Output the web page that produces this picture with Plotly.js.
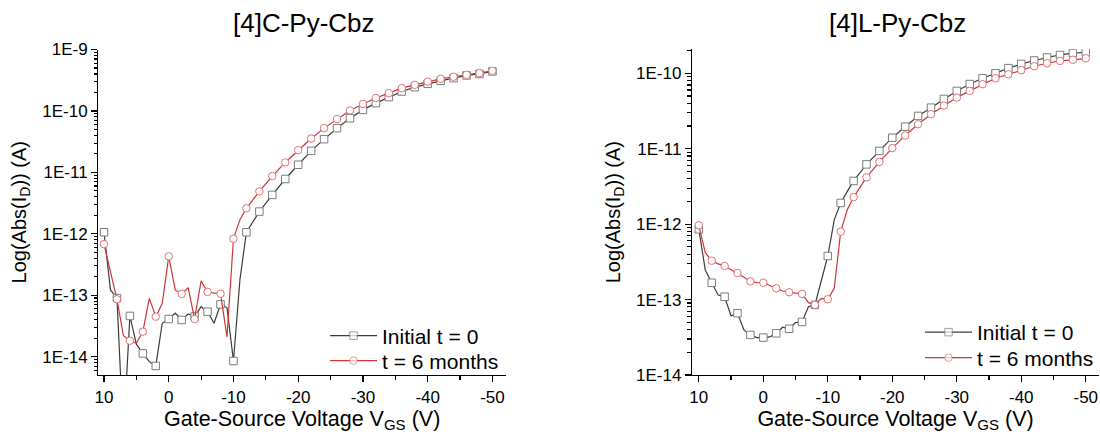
<!DOCTYPE html>
<html>
<head>
<meta charset="utf-8">
<script src="https://cdn.plot.ly/plotly-3.0.1.min.js"></script>
<style>html,body{margin:0;padding:0;background:#fff;}#chart{width:1100px;height:439px;}</style>
</head>
<body>
<div id="chart"></div>
<script>
// ---------- data ----------
const titleC = '[4]C-Py-Cbz';
const titleL = '[4]L-Py-Cbz';
const seriesNames = ['Initial t = 0', 't = 6 months'];

// [4]C-Py-Cbz
const vgsC = [10,9,8,7,6,5,4,3,2,1,0,-1,-2,-3,-4,-5,-6,-7,-8,-9,-10,-11,
  -12,-14,-16,-18,-20,-22,-24,-26,-28,-30,-32,-34,-36,-38,-40,-42,-44,-46,-48,-50];
const idC_t0 = [1.06e-12,1.22e-13,9.0e-14,5e-16,4.6e-14,1.6e-14,1.13e-14,8.3e-15,7.06e-15,3.5e-14,
  4.1e-14,5.1e-14,3.96e-14,4.95e-14,4.5e-14,6.5e-14,5.4e-14,3.5e-14,7.1e-14,6.3e-14,8.5e-15,1.8e-13,
  1.06e-12,2.3e-12,4.3e-12,7.8e-12,1.33e-11,2.24e-11,3.47e-11,5.25e-11,7.6e-11,1.04e-10,1.34e-10,
  1.68e-10,2.07e-10,2.44e-10,2.76e-10,3.09e-10,3.42e-10,3.78e-10,4.0e-10,4.4e-10];
const idC_6m = [6.8e-13,2.3e-13,8.6e-14,2.2e-14,1.82e-14,1.65e-14,2.55e-14,8.9e-14,4.48e-14,7.4e-14,
  4.3e-13,1.22e-13,1.05e-13,1.33e-13,4.1e-14,1.71e-13,1.13e-13,1.08e-13,1.06e-13,2.1e-14,8.3e-13,1.7e-12,
  2.6e-12,4.9e-12,8.7e-12,1.45e-11,2.3e-11,3.55e-11,5.25e-11,7.4e-11,1.02e-10,1.3e-10,1.62e-10,
  1.95e-10,2.35e-10,2.66e-10,3.0e-10,3.33e-10,3.6e-10,3.87e-10,4.13e-10,4.5e-10];

// [4]L-Py-Cbz
const vgsL = [10,9,8,7,6,5,4,3,2,1,0,-1,-2,-3,-4,-5,-6,-7,-8,-9,-10,-11,-12,-13,
  -14,-16,-18,-20,-22,-24,-26,-28,-30,-32,-34,-36,-38,-40,-42,-44,-46,-48,-50];
const idL_t0 = [8.55e-13,2.47e-13,1.67e-13,1.15e-13,1.09e-13,6.07e-14,6.6e-14,3.95e-14,3.4e-14,3.13e-14,
  3.13e-14,3.2e-14,3.57e-14,4.3e-14,4.1e-14,4.94e-14,5.05e-14,8.05e-14,8.5e-14,1.82e-13,3.78e-13,1.14e-12,
  1.91e-12,2.7e-12,3.74e-12,6.2e-12,9.35e-12,1.4e-11,1.96e-11,2.72e-11,3.5e-11,4.57e-11,5.84e-11,7.2e-11,
  8.6e-11,1.0e-10,1.17e-10,1.33e-10,1.48e-10,1.62e-10,1.75e-10,1.85e-10,1.9e-10];
const idL_6m = [9.66e-13,4.2e-13,3.28e-13,2.97e-13,2.79e-13,2.5e-13,2.25e-13,1.98e-13,1.74e-13,1.68e-13,
  1.67e-13,1.52e-13,1.41e-13,1.3e-13,1.25e-13,1.22e-13,1.19e-13,9.1e-14,8.5e-14,1.04e-13,1.01e-13,1.41e-13,
  7.95e-13,1.54e-12,2.28e-12,4.17e-12,6.7e-12,1.02e-11,1.5e-11,2.11e-11,2.87e-11,3.73e-11,4.76e-11,5.84e-11,
  7.17e-11,8.6e-11,9.7e-11,1.1e-10,1.24e-10,1.36e-10,1.46e-10,1.51e-10,1.58e-10];

// tick labels
const xTickVals = [10,0,-10,-20,-30,-40,-50];
const xTickText = ['10','0','-10','-20','-30','-40','-50'];
const yTickVals = [1e-14,1e-13,1e-12,1e-11,1e-10,1e-9];
const yTickText = ['1E-14','1E-13','1E-12','1E-11','1E-10','1E-9'];

// ---------- styling ----------
const FONT = 'Liberation Sans, Arial, sans-serif';
const BLACK_LINE = '#3c3c3c', BLACK_MK = '#7d7d7d';
const RED_LINE = '#cc3636', RED_MK = '#de7474';

// markers shown on every even gate voltage (every second 1 V step)
const mkOpacity = v => v.map(x => (x % 2 === 0 ? 1 : 0));
const minorLog = (lo, hi) => { const a = []; for (let e = lo; e <= hi; e++) for (let m = 2; m <= 9; m++) a.push(m * Math.pow(10, e)); return a; };
const minorX = [5,-5,-15,-25,-35,-45];

function tr(x, y, name, lineC, mkC, sym, xa, ya, leg) {
  return {
    x: x, y: y, name: name, type: 'scatter', mode: 'lines+markers',
    xaxis: xa, yaxis: ya, legend: leg,
    line: {color: lineC, width: 1.2},
    marker: {symbol: sym, size: 7.5, color: '#ffffff', opacity: mkOpacity(x), line: {color: mkC, width: 1}}
  };
}

const data = [
  tr(vgsC, idC_t0, seriesNames[0], BLACK_LINE, BLACK_MK, 'square', 'x', 'y', 'legend'),
  tr(vgsC, idC_6m, seriesNames[1], RED_LINE, RED_MK, 'circle', 'x', 'y', 'legend2'),
  tr(vgsL, idL_t0, seriesNames[0], BLACK_LINE, BLACK_MK, 'square', 'x2', 'y2', 'legend3'),
  tr(vgsL, idL_6m, seriesNames[1], RED_LINE, RED_MK, 'circle', 'x2', 'y2', 'legend4')
];

function xax(domain, range, anchor) {
  return {
    domain: domain, range: range, anchor: anchor, type: 'linear',
    showline: true, linecolor: '#000', linewidth: 1.3, mirror: false,
    showgrid: false, zeroline: false,
    tickmode: 'array', tickvals: xTickVals, ticktext: xTickText,
    ticks: 'outside', ticklen: 6, tickwidth: 1.2, tickcolor: '#000',
    minor: {tickmode: 'array', tickvals: minorX, ticks: 'outside', ticklen: 3.5, tickwidth: 1.2, tickcolor: '#000', showgrid: false},
    tickfont: {family: FONT, size: 17, color: '#000'},
    title: {text: 'Gate-Source Voltage V<sub>GS</sub> (V)', font: {family: FONT, size: 21.5, color: '#000'}, standoff: 3},
    automargin: false, fixedrange: true
  };
}
function yax(domain, range, anchor, lo, hi) {
  return {
    domain: domain, range: range, anchor: anchor, type: 'log',
    showline: true, linecolor: '#000', linewidth: 1.3, mirror: false,
    showgrid: false, zeroline: false,
    tickmode: 'array', tickvals: yTickVals, ticktext: yTickText,
    ticks: 'outside', ticklen: 6, tickwidth: 1.2, tickcolor: '#000',
    minor: {tickmode: 'array', tickvals: minorLog(lo, hi), ticks: 'outside', ticklen: 3.5, tickwidth: 1.1, tickcolor: '#000', showgrid: false},
    tickfont: {family: FONT, size: 17, color: '#000'},
    title: {text: 'Log(Abs(I<sub>D</sub>)) (A)', font: {family: FONT, size: 20, color: '#000'}, standoff: 10},
    automargin: false, fixedrange: true
  };
}

const W = 1100, H = 439;
const px = v => v / W, py = v => (H - v) / H;
function leg(x, top) {
  return {x: px(x), y: py(top), xanchor: 'left', yanchor: 'top', bgcolor: 'rgba(0,0,0,0)',
    font: {family: FONT, size: 21, color: '#000'}, itemwidth: 47};
}

const layout = {
  width: W, height: H,
  margin: {l: 0, r: 0, t: 0, b: 0, pad: 0},
  paper_bgcolor: '#fff', plot_bgcolor: '#fff',
  font: {family: FONT, color: '#000'},
  showlegend: true,
  xaxis: xax([px(98.3), px(506)], [10.88, -52.1], 'y'),
  yaxis: yax([py(375), py(49.5)], [Math.log10(5.03e-15), -9], 'x', -15, -10),
  xaxis2: xax([px(692.1), px(1099)], [11.04, -52.05], 'y2'),
  yaxis2: yax([py(375), py(49.3)], [-14, Math.log10(2.08e-10)], 'x2', -14, -10),
  legend: leg(325, 315.5),
  legend2: leg(325, 340.5),
  legend3: leg(920, 312),
  legend4: leg(920, 337.5),
  annotations: [
    {text: titleC, xref: 'paper', yref: 'paper', x: px(304), y: py(23), xanchor: 'center', yanchor: 'middle',
      showarrow: false, font: {family: FONT, size: 26, color: '#000'}},
    {text: titleL, xref: 'paper', yref: 'paper', x: px(897), y: py(23), xanchor: 'center', yanchor: 'middle',
      showarrow: false, font: {family: FONT, size: 26, color: '#000'}}
  ]
};

Plotly.newPlot('chart', data, layout, {displayModeBar: false, staticPlot: true});
</script>
</body>
</html>
